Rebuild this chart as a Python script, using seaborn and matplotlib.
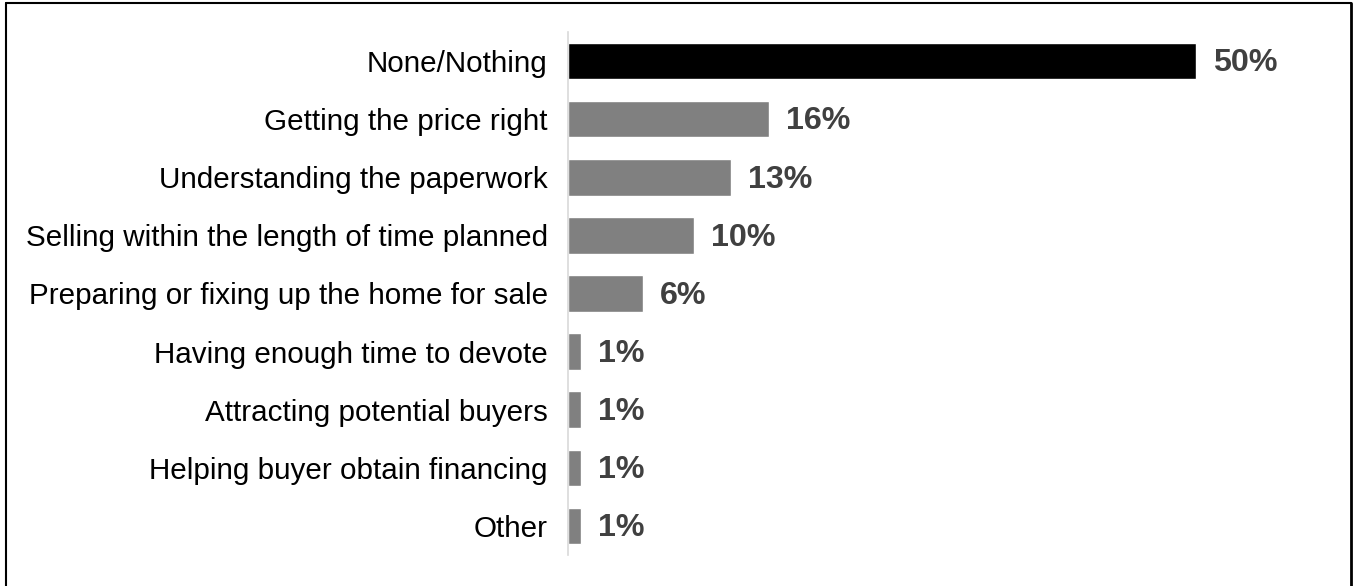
import matplotlib
matplotlib.use("Agg")
import matplotlib.pyplot as plt
import seaborn as sns
import pandas as pd
from matplotlib.lines import Line2D

categories = ["None/Nothing", "Getting the price right", "Understanding the paperwork",
              "Selling within the length of time planned", "Preparing or fixing up the home for sale",
              "Having enough time to devote", "Attracting potential buyers",
              "Helping buyer obtain financing", "Other"]
values = [50, 16, 13, 10, 6, 1, 1, 1, 1]
highlight = ["yes", "no", "no", "no", "no", "no", "no", "no", "no"]

df = pd.DataFrame({"cat": categories, "val": values, "hl": highlight})

sns.set_theme(style="white")
plt.rcParams['font.family'] = ['Liberation Sans', 'DejaVu Sans']

fig = plt.figure(figsize=(13.53, 5.86), dpi=100)
ax = fig.add_axes([0.4198, 0.0529, 0.5107, 0.8925])
sns.barplot(data=df, y="cat", x="val", hue="hl", palette={"yes": "#000000", "no": "#808080"},
            dodge=False, width=0.63, legend=False, ax=ax, orient="h", saturation=1)

ax.set_xlim(0, 55)
ax.set_ylim(len(categories) - 0.5, -0.5)
ax.set_xlabel("")
ax.set_ylabel("")
ax.set_xticks([])
for s in ["top", "right", "bottom"]:
    ax.spines[s].set_visible(False)
ax.spines["left"].set_color("#d9d9d9")
ax.spines["left"].set_linewidth(1.2)
ax.tick_params(axis="y", length=0, pad=14.5, labelsize=21.3, labelcolor="#000000")

for i, v in enumerate(values):
    ax.text(v + 1.35, i + 0.04, f"{v}%", va="center", ha="left", fontsize=23.2,
            fontweight="bold", color="#404040")

fig.add_artist(Line2D([6/1353, 6/1353], [0, 1 - 3/586], color="black", lw=1.5, transform=fig.transFigure))
fig.add_artist(Line2D([6/1353, 1351/1353], [1 - 3/586, 1 - 3/586], color="black", lw=1.5, transform=fig.transFigure))
fig.add_artist(Line2D([1351/1353, 1351/1353], [0, 1 - 3/586], color="black", lw=2.0, transform=fig.transFigure))

fig.savefig("out.png", dpi=100)
